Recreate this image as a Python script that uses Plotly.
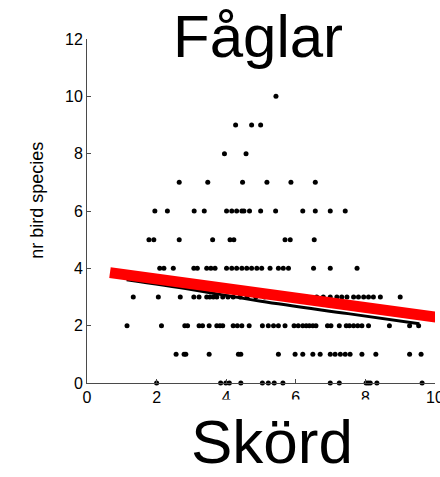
import plotly.graph_objects as go

# Harvest (Skörd) values for each observed number of bird species
harvest_y10 = [5.43]
harvest_y9 = [4.27, 4.73, 4.99]
harvest_y8 = [3.95, 4.57]
harvest_y7 = [2.65, 3.47, 4.47, 5.17, 5.86, 6.56]
harvest_y6 = [1.95, 2.31, 3.08, 3.37, 4.01, 4.16, 4.30, 4.45, 4.51, 4.67, 4.99, 5.42, 6.20, 6.56, 6.99, 7.42]
harvest_y5 = [1.78, 1.92, 2.65, 3.61, 4.11, 4.22, 5.69, 5.84, 6.53]
harvest_y4 = [2.09, 2.21, 2.48, 3.07, 3.17, 3.44, 3.56, 3.68, 4.01, 4.16, 4.30, 4.45, 4.59, 4.73, 4.88, 5.02,
              5.26, 5.50, 5.64, 5.79, 6.51, 6.99, 7.76]
harvest_y3 = [1.33, 2.05, 2.68, 3.07, 3.22, 3.44, 3.53, 3.63, 3.73, 3.9, 4.05, 4.2, 4.4, 4.6, 4.85, 5.1, 5.4,
              5.7, 6.0, 6.3, 6.6, 6.79, 6.99, 7.18, 7.32, 7.47, 7.66, 7.80, 7.95, 8.09, 8.23, 8.43, 9.00]
harvest_y2 = [1.15, 2.14, 2.81, 2.89, 3.22, 3.32, 3.51, 3.73, 3.82, 3.90, 4.20, 4.32, 4.45, 4.66, 5.04, 5.21,
              5.36, 5.50, 5.69, 5.95, 6.07, 6.20, 6.30, 6.39, 6.49, 6.58, 6.91, 7.01, 7.25, 7.45, 7.54, 7.66,
              7.78, 7.90, 8.09, 8.69, 9.27, 9.53]
harvest_y1 = [2.56, 2.79, 2.84, 3.51, 4.35, 4.42, 5.50, 5.98, 6.20, 6.49, 6.70, 6.99, 7.13, 7.28, 7.42, 7.56,
              7.90, 8.30, 9.27, 9.60]
harvest_y0 = [2.00, 3.84, 3.99, 4.09, 4.42, 5.04, 5.21, 5.38, 5.63, 6.99, 7.25, 8.02, 8.08, 8.14, 8.33, 9.63]

rows = {10: harvest_y10, 9: harvest_y9, 8: harvest_y8, 7: harvest_y7, 6: harvest_y6, 5: harvest_y5,
        4: harvest_y4, 3: harvest_y3, 2: harvest_y2, 1: harvest_y1, 0: harvest_y0}

# fitted curve (black)
fit_x = [1.14, 3.0, 5.0, 7.5, 9.55]
fit_y = [3.60, 3.26, 2.85, 2.42, 2.07]

# thick red trend line
trend_x = [0.66, 10.15]
trend_y = [3.85, 2.28]

x_ticks = [0, 2, 4, 6, 8, 10]
y_ticks = [0, 2, 4, 6, 8, 10, 12]

xs, ys = [], []
for k, v in rows.items():
    xs += v
    ys += [k] * len(v)

FONT = "Arial, Liberation Sans, sans-serif"
AXC = "#4a4a4a"

fig = go.Figure()
fig.add_trace(go.Scatter(x=xs, y=ys, mode="markers",
                         marker=dict(color="black", size=5),
                         cliponaxis=False, showlegend=False))
fig.add_trace(go.Scatter(x=fit_x, y=fit_y, mode="lines",
                         line=dict(color="black", width=3, shape="spline"),
                         showlegend=False))
fig.add_trace(go.Scatter(x=trend_x, y=trend_y, mode="lines",
                         line=dict(color="#ff0000", width=11),
                         cliponaxis=False, showlegend=False))

fig.update_layout(
    width=440, height=477,
    margin=dict(l=87, r=5, t=39, b=94, autoexpand=False),
    paper_bgcolor="white", plot_bgcolor="white",
    font=dict(family=FONT, color="black"),
    xaxis=dict(range=[0, 10], tickvals=x_ticks, ticks="inside", ticklen=4,
               tickcolor=AXC, showline=True, linecolor=AXC, linewidth=1,
               ticklabeloverflow="allow", automargin=False,
               showgrid=False, zeroline=False, tickfont=dict(size=16, family=FONT)),
    yaxis=dict(range=[0, 12], tickvals=y_ticks, ticks="inside", ticklen=4,
               tickcolor=AXC, showline=True, linecolor=AXC, linewidth=1,
               automargin=False,
               showgrid=False, zeroline=False, tickfont=dict(size=16, family=FONT)),
    annotations=[
        dict(text="Fåglar", xref="x", yref="paper", x=4.92, y=1, yanchor="middle",
             xanchor="center", yshift=3, showarrow=False,
             font=dict(size=60, family=FONT, color="black")),
        dict(text="Skörd", xref="x", yref="paper", x=5.32, y=0, yanchor="top",
             xanchor="center", yshift=-16, showarrow=False, width=210, height=76,
             valign="bottom", bgcolor="white", borderpad=0,
             font=dict(size=62, family=FONT, color="black")),
        dict(text="nr bird species", xref="paper", yref="paper", x=0, y=0.53,
             xanchor="center", yanchor="middle", xshift=-50, textangle=-90,
             showarrow=False, font=dict(size=18, family=FONT, color="black")),
    ],
)

fig.write_html("out.html")
